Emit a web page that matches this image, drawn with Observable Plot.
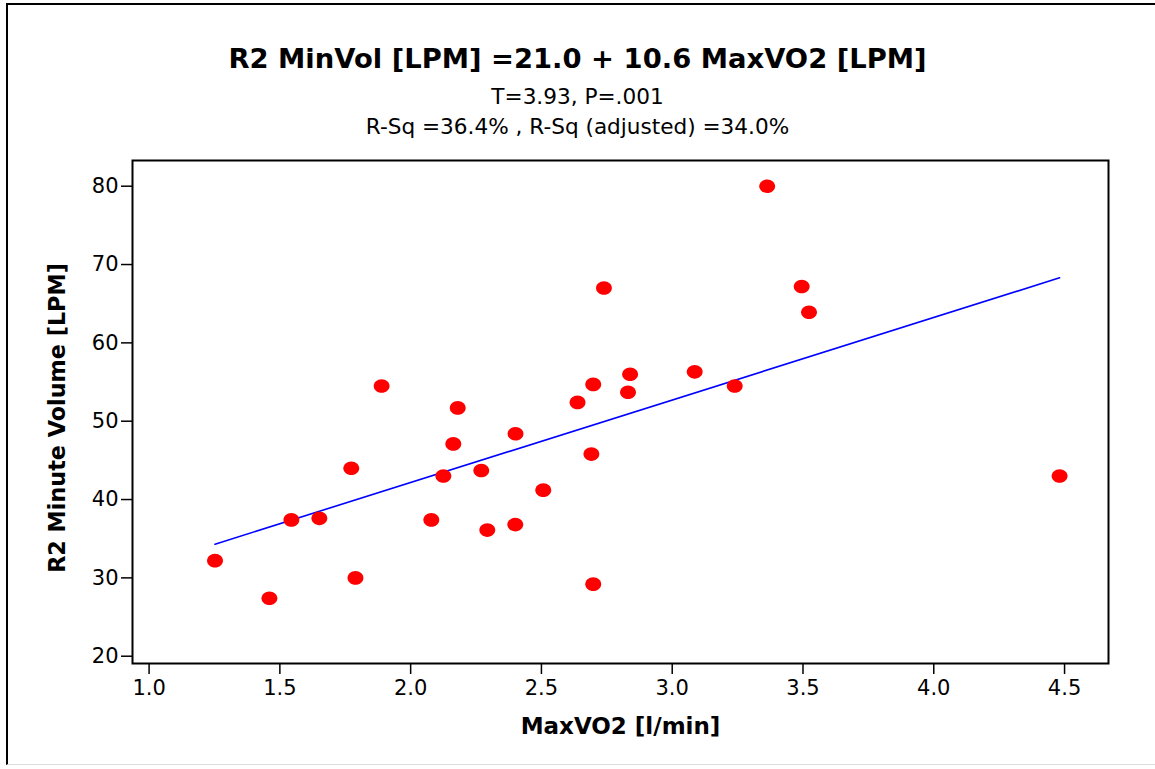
<!DOCTYPE html>
<html>
<head>
<meta charset="utf-8">
<script src="https://cdn.jsdelivr.net/npm/d3@7"></script>
<script src="https://cdn.jsdelivr.net/npm/@observablehq/plot@0.6"></script>
<style>
  html, body { margin: 0; padding: 0; background: #fff; overflow: hidden; }
  #page { position: relative; width: 1155px; height: 769px; font-family: "DejaVu Sans", Verdana, sans-serif; color: #000; }
  #border { position: absolute; left: 6px; top: 3px; width: 1149px; height: 762px; border-left: 2px solid #000; border-top: 2px solid #000; border-bottom: 1px solid #ddd; box-sizing: border-box; }
  .t { position: absolute; left: 0; width: 1155px; text-align: center; white-space: nowrap; }
  #title { top: 42px; font-size: 27.4px; font-weight: bold; line-height: 34px; }
  #sub1 { top: 82px; font-size: 21.6px; line-height: 30px; }
  #sub2 { top: 112px; font-size: 21.6px; line-height: 30px; }
  #chart { position: absolute; left: 0; top: 0; }
</style>
</head>
<body>
<div id="page">
  <div id="border"></div>
  <div id="chart"></div>
  <div class="t" id="title">R2 MinVol [LPM] =21.0 + 10.6 MaxVO2 [LPM]</div>
  <div class="t" id="sub1">T=3.93, P=.001</div>
  <div class="t" id="sub2">R-Sq =36.4% , R-Sq (adjusted) =34.0%</div>
</div>
<script>
// Data
const maxVO2 = [1.252, 1.460, 1.544, 1.651, 1.773, 1.789, 1.889, 2.079, 2.125, 2.163, 2.180, 2.270, 2.293, 2.401, 2.400, 2.507, 2.638, 2.691, 2.698, 2.698, 2.739, 2.839, 2.831, 3.086, 3.239, 3.363, 3.495, 3.523, 4.481];
const minVol = [32.2, 27.4, 37.4, 37.6, 44.0, 30.0, 54.5, 37.4, 43.0, 47.1, 51.7, 43.7, 36.1, 48.4, 36.8, 41.2, 52.4, 45.8, 54.7, 29.2, 67.0, 56.0, 53.7, 56.3, 54.5, 80.0, 67.2, 63.9, 43.0];
const fitX = [1.252, 4.481];
const fitY = [34.3, 68.3];
const xTicks = [1.0, 1.5, 2.0, 2.5, 3.0, 3.5, 4.0, 4.5];
const yTicks = [20, 30, 40, 50, 60, 70, 80];
const xLabel = "MaxVO2 [l/min]";
const yLabel = "R2 Minute Volume [LPM]";

const points = maxVO2.map((x, i) => ({x, y: minVol[i]}));
const fit = fitX.map((x, i) => ({x, y: fitY[i]}));

// ellipse-shaped symbol (slightly wider than tall, like the reference)
const ellipse = {
  draw(ctx, size) {
    const r = Math.sqrt(size / Math.PI);
    const rx = r * 1.17, ry = r, k = 0.5523;
    ctx.moveTo(rx, 0);
    ctx.bezierCurveTo(rx, k * ry, k * rx, ry, 0, ry);
    ctx.bezierCurveTo(-k * rx, ry, -rx, k * ry, -rx, 0);
    ctx.bezierCurveTo(-rx, -k * ry, -k * rx, -ry, 0, -ry);
    ctx.bezierCurveTo(k * rx, -ry, rx, -k * ry, rx, 0);
    ctx.closePath();
  }
};

const chart = Plot.plot({
  width: 1155,
  height: 769,
  marginTop: 160,
  marginLeft: 132,
  marginRight: 47,
  marginBottom: 106,
  style: { fontFamily: "DejaVu Sans, Verdana, sans-serif", fontSize: "21px", color: "#000", background: "transparent" },
  x: { domain: [0.9366, 4.668] },
  y: { domain: [19.07, 83.28] },
  marks: [
    Plot.axisX({ ticks: xTicks, tickFormat: d3.format(".1f"), tickSize: 11, tickPadding: 6, label: null, stroke: "#000", strokeWidth: 1.5 }),
    Plot.axisY({ ticks: yTicks, tickFormat: d3.format("d"), tickSize: 11, tickPadding: 3, label: null, stroke: "#000", strokeWidth: 1.5 }),
    Plot.line(fit, { x: "x", y: "y", stroke: "#0000ff", strokeWidth: 1.6 }),
    Plot.dot(points, { x: "x", y: "y", r: 6.8, symbol: ellipse, fill: "#ff0000", stroke: "none" }),
    Plot.frame({ stroke: "#000", strokeWidth: 2 }),
    Plot.text([xLabel], { frameAnchor: "bottom", text: d => d, dy: 63, fontWeight: "bold", fontSize: 23, lineAnchor: "middle", textAnchor: "middle" }),
    Plot.text([yLabel], { frameAnchor: "left", text: d => d, dx: -75, dy: 6, rotate: -90, fontWeight: "bold", fontSize: 22.3, lineAnchor: "middle", textAnchor: "middle" })
  ]
});
document.getElementById("chart").appendChild(chart);
</script>
</body>
</html>
